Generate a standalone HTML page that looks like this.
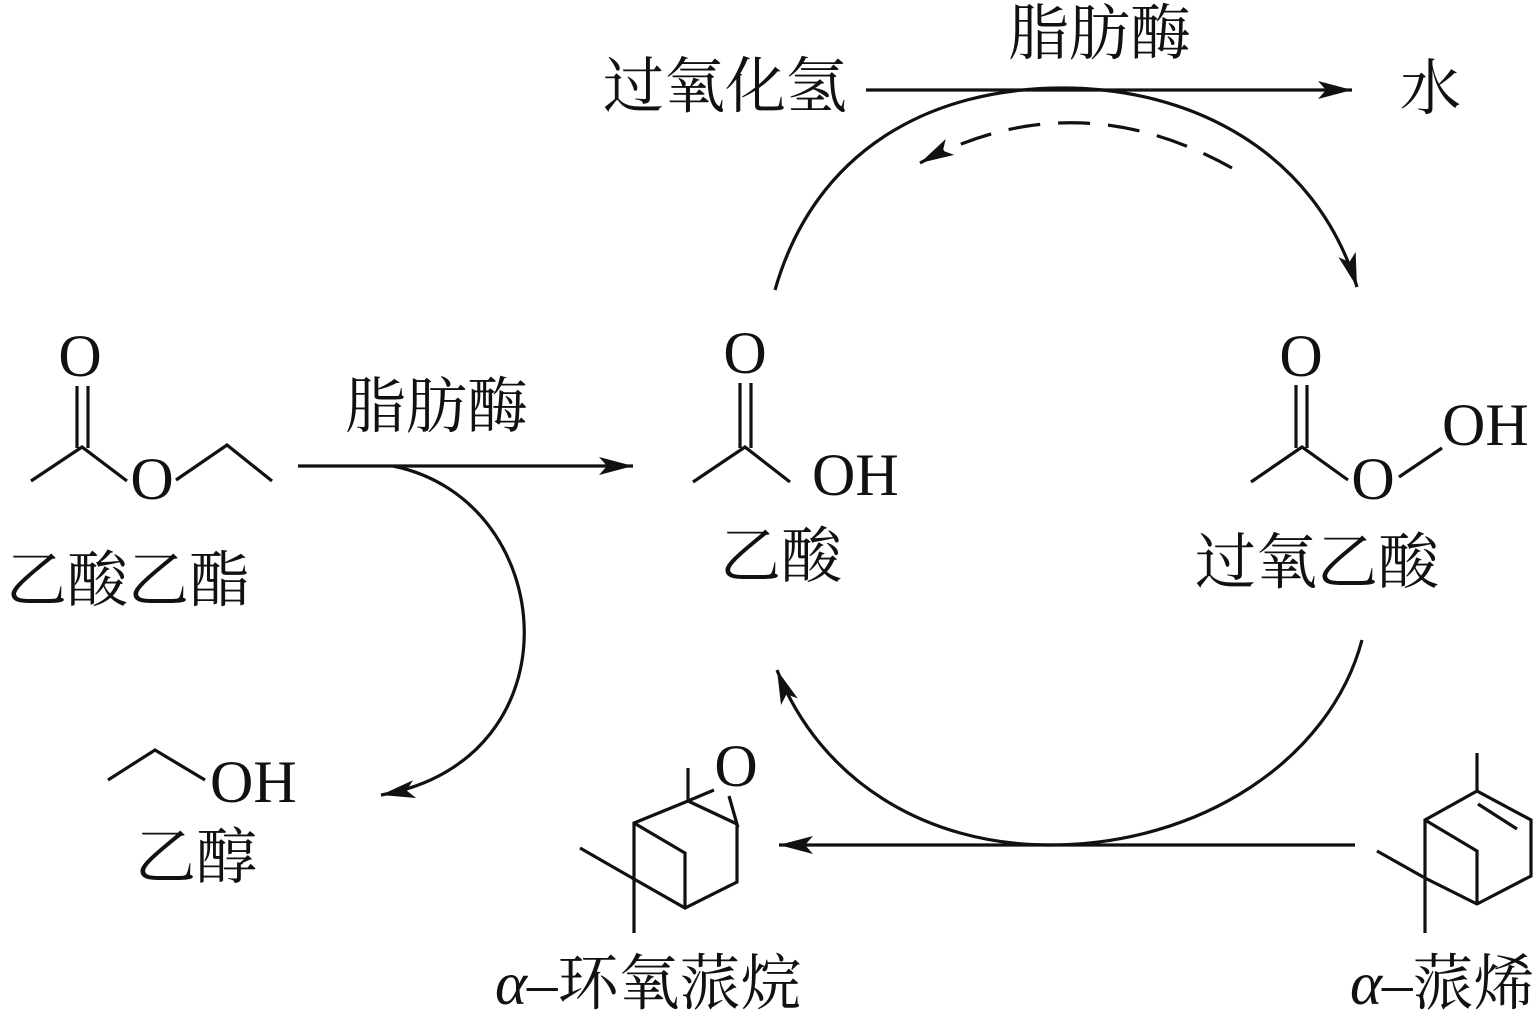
<!DOCTYPE html>
<html><head><meta charset="utf-8"><style>
html,body{margin:0;padding:0;background:#fff;}
svg{display:block;}
.cn{font-family:"Liberation Serif","Noto Serif CJK SC",serif;font-size:61px;fill:#111;}
.at{font-family:"Liberation Serif",serif;font-size:60px;fill:#111;}
</style></head><body>
<svg width="1539" height="1024" viewBox="0 0 1539 1024" xmlns="http://www.w3.org/2000/svg">
<defs>
<marker id="ah" markerWidth="40" markerHeight="20" refX="36" refY="10" orient="auto" markerUnits="userSpaceOnUse">
<path d="M36,10 L2,1 L10,10 L2,19 Z" fill="#111"/>
</marker>
</defs>
<g stroke="#111" stroke-width="3.2" fill="none" stroke-linecap="butt">
<path d="M866,90 L1352,90" marker-end="url(#ah)"/>
<path d="M298,466 L633,466" marker-end="url(#ah)"/>
<path d="M1355,845 L779,845" marker-end="url(#ah)"/>
<path d="M775,290 C815,150 930,88 1063,88 C1190,88 1315,150 1357,287" marker-end="url(#ah)"/>
<path d="M1232,168 Q1075,80 920,163" stroke-dasharray="32,18" marker-end="url(#ah)"/>
<path d="M1362,640 C1330,760 1200,845 1050,845 C925,845 820,780 777,670" marker-end="url(#ah)"/>
<path d="M393,466 C560,500 580,760 381,795" marker-end="url(#ah)"/>

<path d="M77,386 L77,448 M88,386 L88,448"/>
<path d="M31,481 L82,447 L127,481"/>
<path d="M176,480 L227,445 L272,481"/>
<path d="M740,383 L740,448 M751,383 L751,448"/>
<path d="M693,482 L745,447 L790,482"/>
<path d="M1296,385 L1296,448 M1307,385 L1307,448"/>
<path d="M1251,482 L1302,447 L1348,480"/>
<path d="M1399,477 L1442,448"/>
<path d="M108,780 L155,750 L205,780"/>
<path d="M688,768 L688,801 L714,790 M688,801 L737,824 L729,796 M737,824 L737,882 L685,908 L634,879 L634,823 L688,801 M634,823 L685,853 L685,908 M580,848 L634,879 L634,933"/>
<path d="M1477,753 L1477,791 L1531,820 L1531,876 L1477,904 L1425,878 L1425,820 L1477,791 M1425,820 L1477,851 L1477,904 M1377,851 L1425,878 L1425,933 M1478,804 L1517,829"/>
</g>
<text class="at" x="80" y="376" text-anchor="middle">O</text>
<text class="at" x="152" y="499" text-anchor="middle">O</text>
<text class="at" x="745" y="373" text-anchor="middle">O</text>
<text class="at" x="812" y="495">OH</text>
<text class="at" x="1301" y="376" text-anchor="middle">O</text>
<text class="at" x="1373" y="499" text-anchor="middle">O</text>
<text class="at" x="1442" y="445">OH</text>
<text class="at" x="210" y="802">OH</text>
<text class="at" x="736" y="786" text-anchor="middle">O</text>
<text class="cn" x="603" y="107">过氧化氢</text>
<text class="cn" x="1008" y="54">脂肪酶</text>
<text class="cn" x="1400" y="109">水</text>
<text class="cn" x="345" y="427">脂肪酶</text>
<text class="cn" x="6" y="601">乙酸乙酯</text>
<text class="cn" x="720" y="577">乙酸</text>
<text class="cn" x="1195" y="583">过氧乙酸</text>
<text class="cn" x="135" y="878">乙醇</text>
<text class="cn" x="495" y="1004"><tspan font-style="italic" font-family="Liberation Serif">α</tspan>–环氧蒎烷</text>
<text class="cn" x="1350" y="1004"><tspan font-style="italic" font-family="Liberation Serif">α</tspan>–蒎烯</text>
</svg>
</body></html>
